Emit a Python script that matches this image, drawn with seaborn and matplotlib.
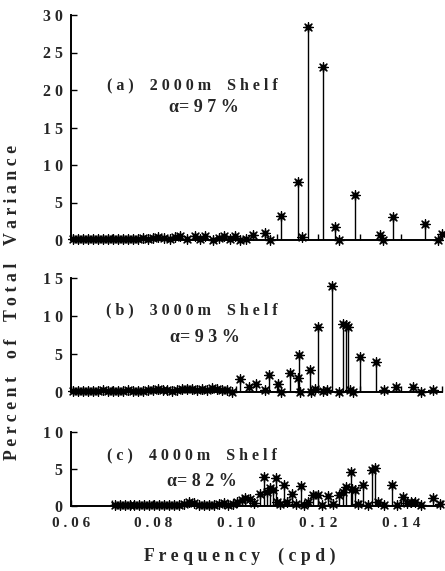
import numpy as np
import pandas as pd
import matplotlib
matplotlib.use("Agg")
import matplotlib.pyplot as plt
import seaborn as sns

# ---------------- data ----------------
# Panel (a) 2000m shelf
freq_a = [0.0606, 0.0618, 0.0630, 0.0642, 0.0654, 0.0666, 0.0678, 0.0690, 0.0702,
          0.0714, 0.0726, 0.0738, 0.0750, 0.0762, 0.0774, 0.0786, 0.0798, 0.0810,
          0.0825, 0.0841, 0.0853, 0.0865, 0.0882, 0.0902, 0.0914, 0.0926, 0.0945,
          0.0958, 0.0970, 0.0985, 0.0999, 0.1011, 0.1025, 0.1041, 0.1071, 0.1082,
          0.1110, 0.1151, 0.1160, 0.1174, 0.1211, 0.1241, 0.1249, 0.1290, 0.1350,
          0.1358, 0.1380, 0.1459, 0.1491, 0.1499]
var_a = [0.15, 0.10, 0.15, 0.10, 0.20, 0.10, 0.15, 0.10, 0.15,
         0.20, 0.10, 0.15, 0.20, 0.15, 0.25, 0.20, 0.30, 0.45,
         0.30, 0.10, 0.35, 0.50, 0.15, 0.55, 0.20, 0.60, 0.00,
         0.25, 0.50, 0.20, 0.60, 0.00, 0.20, 0.65, 1.00, 0.00,
         3.20, 7.80, 0.45, 28.4, 23.1, 1.70, 0.00, 6.00, 0.70,
         0.00, 3.10, 2.10, 0.00, 0.80]

# Panel (b) 3000m shelf
freq_b = [0.0606, 0.0618, 0.0630, 0.0642, 0.0654, 0.0666, 0.0678, 0.0690, 0.0702,
          0.0714, 0.0726, 0.0738, 0.0750, 0.0762, 0.0774, 0.0786, 0.0798, 0.0810,
          0.0822, 0.0834, 0.0846, 0.0858, 0.0870, 0.0882, 0.0894, 0.0906, 0.0918,
          0.0930, 0.0942, 0.0954, 0.0966, 0.0978, 0.0990,
          0.1011, 0.1031, 0.1049, 0.1071, 0.1081, 0.1102, 0.1109, 0.1132, 0.1150,
          0.1153, 0.1156, 0.1180, 0.1182, 0.1192, 0.1200, 0.1212, 0.1221, 0.1233,
          0.1249, 0.1261, 0.1267, 0.1273, 0.1276, 0.1285, 0.1301, 0.1339, 0.1359,
          0.1388, 0.1429, 0.1448, 0.1477]
var_b = [0.15, 0.10, 0.15, 0.10, 0.15, 0.10, 0.20, 0.10, 0.15,
         0.10, 0.15, 0.20, 0.10, 0.15, 0.10, 0.20, 0.25, 0.35,
         0.20, 0.25, 0.15, 0.30, 0.35, 0.40, 0.45, 0.30, 0.35,
         0.20, 0.50, 0.45, 0.30, 0.20, 0.00,
         1.70, 0.60, 1.10, 0.30, 2.30, 1.10, 0.00, 2.50, 1.80,
         4.90, 0.00, 2.90, 0.00, 0.35, 8.50, 0.10, 0.20, 14.0,
         0.00, 9.00, 8.80, 8.50, 0.20, 0.00, 4.60, 4.00, 0.20,
         0.70, 0.70, 0.00, 0.30]

# Panel (c) 4000m shelf
freq_c = [0.0706, 0.0718, 0.0730, 0.0742, 0.0754, 0.0766, 0.0778, 0.0790, 0.0802,
          0.0814, 0.0826, 0.0838, 0.0850, 0.0862, 0.0874, 0.0886, 0.0898, 0.0910,
          0.0922, 0.0934, 0.0946, 0.0958, 0.0970, 0.0982, 0.0994,
          0.1003, 0.1015, 0.1023, 0.1035, 0.1045, 0.1058, 0.1067, 0.1075, 0.1083,
          0.1090, 0.1097, 0.1100, 0.1108, 0.1117, 0.1125, 0.1136, 0.1145, 0.1158,
          0.1165, 0.1175, 0.1188, 0.1200, 0.1210, 0.1224, 0.1235, 0.1249, 0.1259,
          0.1267, 0.1279, 0.1282, 0.1289, 0.1296, 0.1309, 0.1320, 0.1330, 0.1338,
          0.1345, 0.1360, 0.1378, 0.1390, 0.1405, 0.1415, 0.1425, 0.1435, 0.1450,
          0.1478, 0.1494]
var_c = [0.10, 0.15, 0.10, 0.10, 0.15, 0.10, 0.15, 0.10, 0.15,
         0.10, 0.15, 0.10, 0.20, 0.15, 0.30, 0.55, 0.35, 0.20,
         0.15, 0.20, 0.15, 0.25, 0.40, 0.20, 0.30,
         0.50, 0.80, 1.10, 1.00, 0.40, 1.60, 3.90, 1.90, 2.40,
         2.20, 3.80, 0.50, 0.30, 2.90, 0.60, 1.60, 0.30, 2.70,
         0.20, 0.50, 1.50, 1.50, 0.20, 1.40, 0.30, 1.50, 1.90,
         2.60, 4.60, 2.30, 2.10, 0.30, 2.90, 0.20, 4.90, 5.20,
         0.60, 0.10, 2.80, 0.10, 1.20, 0.40, 0.60, 0.50, 0.10,
         1.10, 0.30]

panel_titles = ["(a) 2000m Shelf", "(b) 3000m Shelf", "(c) 4000m Shelf"]
alpha_texts = ["α= 9 7 %", "α= 9 3 %", "α= 8 2 %"]
y_maxes = [30, 15, 10]
y_ticks = [[0, 5, 10, 15, 20, 25, 30], [0, 5, 10, 15], [0, 5, 10]]
x_ticks = [0.06, 0.07, 0.08, 0.09, 0.10, 0.11, 0.12, 0.13, 0.14, 0.15]
x_ticklabels = ["0.06", "", "0.08", "", "0.10", "", "0.12", "", "0.14", ""]

# ---------------- style ----------------
sns.set_theme(style="ticks")
plt.rcParams["font.family"] = ["Liberation Serif", "DejaVu Serif"]
plt.rcParams["font.weight"] = "bold"

W, H = 445, 571
fig = plt.figure(figsize=(W / 100, H / 100), dpi=100)


def spaced(s):
    return " ".join(s)


def px_rect(left, top, right, bottom):
    return [left / W, 1 - bottom / H, (right - left) / W, (bottom - top) / H]


rects = [px_rect(71, 15, 442, 240), px_rect(71, 278, 442, 392), px_rect(71, 432, 442, 506)]
freqs = [freq_a, freq_b, freq_c]
vals = [var_a, var_b, var_c]
fs = 11.5

for i in range(3):
    ax = fig.add_axes(rects[i])
    df = pd.DataFrame({"freq": freqs[i], "var": vals[i]})
    ax.vlines(df["freq"], 0, df["var"], color="black", linewidth=1.0, zorder=2)
    sns.scatterplot(data=df, x="freq", y="var", ax=ax, marker="o", s=16,
                    color="black", edgecolor="black", linewidth=0.3, zorder=3,
                    clip_on=False, legend=False)
    sns.scatterplot(data=df, x="freq", y="var", ax=ax, marker=(8, 2, 0), s=48,
                    color="black", edgecolor="black", linewidth=0.9, zorder=3,
                    clip_on=False, legend=False)
    ax.set_xlim(0.06, 0.15)
    ax.set_ylim(0, y_maxes[i])
    for sp in ["top", "right"]:
        ax.spines[sp].set_visible(False)
    for sp in ["left", "bottom"]:
        ax.spines[sp].set_linewidth(1.4)
        ax.spines[sp].set_color("black")
    ax.set_yticks(y_ticks[i])
    ax.set_yticklabels([spaced(str(t)) for t in y_ticks[i]], fontsize=fs,
                       fontweight="bold")
    ax.set_xticks(x_ticks)
    if i == 2:
        ax.set_xticklabels([spaced(t) for t in x_ticklabels], fontsize=11,
                           fontweight="bold")
    else:
        ax.set_xticklabels([])
    ax.tick_params(axis="both", direction="in", length=4, width=1.0, color="black",
                   pad=6)
    ax.tick_params(axis="x", pad=8)
    ax.set_xlabel("")
    ax.set_ylabel("")
    ax.set_facecolor("white")

# panel annotations (pixel positions)
title_pos = [(192, 85), (192, 310), (192, 455)]
alpha_pos = [(204, 108), (205, 338), (202, 482)]
for i in range(3):
    x, y = title_pos[i]
    fig.text(x / W, 1 - y / H, spaced(panel_titles[i]).replace("   ", "    "),
             ha="center", va="center", fontsize=fs, fontweight="bold")
    x, y = alpha_pos[i]
    fig.text(x / W, 1 - y / H, alpha_texts[i],
             ha="center", va="center", fontsize=fs + 1.5, fontweight="bold")

fig.text(13 / W, 1 - 302 / H, spaced("Percent of Total Variance").replace("   ", "    "),
         rotation=90, ha="center", va="center", fontsize=12.8, fontweight="bold")
fig.text(240 / W, 1 - 556 / H, spaced("Frequency (cpd)").replace("   ", "    "),
         ha="center", va="center", fontsize=12.8, fontweight="bold")

fig.savefig("out.png", dpi=100, facecolor="white")
